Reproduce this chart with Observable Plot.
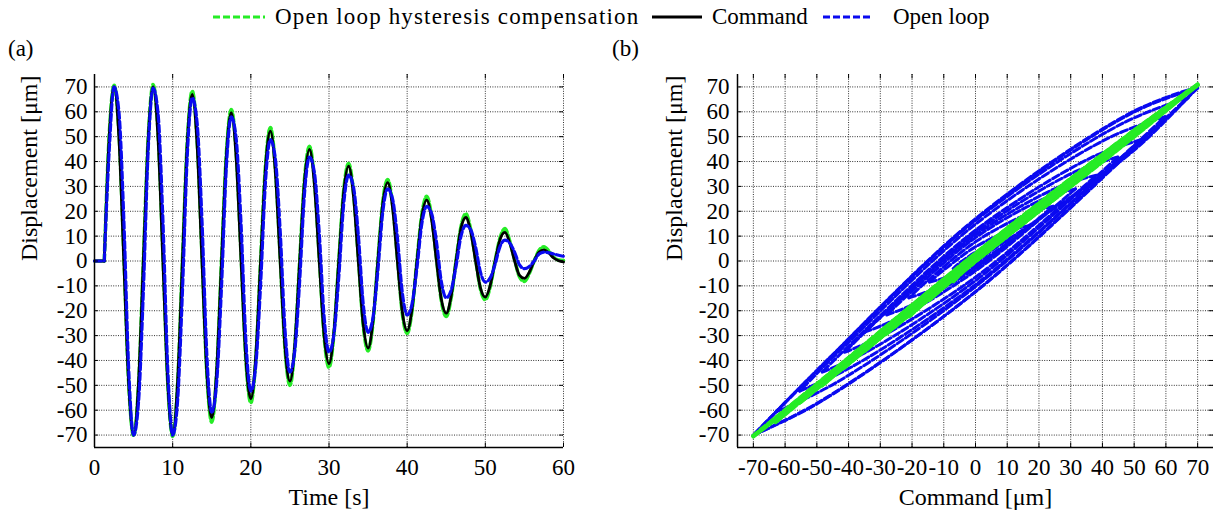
<!DOCTYPE html>
<html><head><meta charset="utf-8">
<script src="https://cdn.jsdelivr.net/npm/d3@7"></script>
<script src="https://cdn.jsdelivr.net/npm/@observablehq/plot@0.6"></script>
<style>
html,body{margin:0;padding:0;background:#fff;}
#wrap{position:relative;width:1216px;height:517px;overflow:hidden;background:#fff;font-family:"Liberation Serif","Times New Roman",Times,serif;color:#000;}
.panel{position:absolute;top:0;}
.lg{position:absolute;font-size:23px;line-height:1;white-space:nowrap;}
.lgs{position:absolute;}
.tag{position:absolute;font-size:23px;line-height:1;}
</style></head>
<body><div id="wrap">
  <div id="pa" class="panel" style="left:0px"></div>
  <div id="pb" class="panel" style="left:608px"></div>
  <svg class="lgs" style="left:213px;top:12px" width="52" height="10"><line x1="0" y1="5" x2="52" y2="5" stroke="#26ec26" stroke-width="3" stroke-dasharray="7,3"/></svg>
  <div class="lg" style="left:275px;top:5px;letter-spacing:1.15px">Open loop hysteresis compensation</div>
  <svg class="lgs" style="left:652px;top:12px" width="50" height="10"><line x1="0" y1="5" x2="50" y2="5" stroke="#000" stroke-width="3"/></svg>
  <div class="lg" style="left:712px;top:5px">Command</div>
  <svg class="lgs" style="left:823px;top:12px" width="50" height="10"><line x1="0" y1="5" x2="50" y2="5" stroke="#0a0af0" stroke-width="3" stroke-dasharray="7,3"/></svg>
  <div class="lg" style="left:893px;top:5px">Open loop</div>
  <div class="tag" style="left:8px;top:37px">(a)</div>
  <div class="tag" style="left:612px;top:37px">(b)</div>
</div>
<script>
const FONT = "'Liberation Serif','Times New Roman',Times,serif";
const BLUE = "#0a0af0", GREEN = "#26ec26", BLACK = "#000";

// tick values
const timeTicks = [0, 10, 20, 30, 40, 50, 60];
const dispTicks = [-70, -60, -50, -40, -30, -20, -10, 0, 10, 20, 30, 40, 50, 60, 70];
const cmdTicks = [-70, -60, -50, -40, -30, -20, -10, 0, 10, 20, 30, 40, 50, 60, 70];

// sample times [s]
const tKey = [0, 1.25, 1.875, 2.5,
  3.125, 3.75, 4.375, 5, 5.625, 6.25, 6.875, 7.5, 8.125, 8.75, 9.375, 10,
  10.625, 11.25, 11.875, 12.5, 13.125, 13.75, 14.375, 15, 15.625, 16.25, 16.875, 17.5,
  18.125, 18.75, 19.375, 20, 20.625, 21.25, 21.875, 22.5, 23.125, 23.75, 24.375, 25,
  25.625, 26.25, 26.875, 27.5, 28.125, 28.75, 29.375, 30, 30.625, 31.25, 31.875, 32.5,
  33.125, 33.75, 34.375, 35, 35.625, 36.25, 36.875, 37.5, 38.125, 38.75, 39.375, 40,
  40.625, 41.25, 41.875, 42.5, 43.125, 43.75, 44.375, 45, 45.625, 46.25, 46.875, 47.5,
  48.125, 48.75, 49.375, 50, 50.625, 51.25, 51.875, 52.5, 53.125, 53.75, 54.375, 55,
  55.625, 56.25, 56.875, 57.5, 58.125, 58.75, 59.375, 60];

// Command [um]
const command = [0, 0, 49.5, 70,
  49.5, 0, -49.5, -70, -49.5, 0, 49.5, 70, 49.5, 0, -49.5, -70,
  -49.0, 0, 47.9, 67, 46.7, 0, -45.2, -63, -44.0, 0, 42.8, 59.7,
  41.5, 0, -39.9, -55.4, -38.6, 0, 37.5, 52.2, 36.2, 0, -34.8, -48.3,
  -33.5, 0, 32.4, 44.9, 31.1, 0, -29.8, -41.3, -28.6, 0, 27.5, 38.1,
  26.4, 0, -25.3, -35, -24.1, 0, 22.9, 31.5, 21.7, 0, -20.4, -28,
  -19.2, 0, 17.9, 24.5, 16.7, 0, -15.5, -21, -14.2, 0, 13.0, 17.5,
  11.8, 0, -10.8, -14.5, -9.8, 0, 8.6, 11.5, 7.3, 0, -5.8, -7,
  -4.5, 0, 3.6, 4.5, 3.2, 1.2, 0.1, -0.4];

// Open loop displacement [um]
const openLoop = [0, 0, 44.0, 70,
  60.0, 17.0, -43.5, -70, -57.1, -12.3, 45.1, 69.5, 59.6, 16.7, -43.6, -70,
  -56.5, -12.4, 42.8, 65.6, 55.6, 16.3, -37.9, -60.8, -49.0, -10.3, 38.1, 58,
  49.2, 14.8, -32.5, -52.3, -42.3, -9.5, 31.9, 48.8, 41.4, 12.4, -27.8, -44.7,
  -36.0, -7.9, 27.5, 41.8, 35.7, 11.4, -22.5, -36.7, -29.6, -6.5, 22.7, 34.5,
  29.9, 10.5, -17.2, -28.7, -22.8, -4.0, 19.6, 29, 25.1, 9.4, -12.6, -21.7,
  -17.2, -2.9, 15.0, 22, 19.1, 7.7, -8.4, -14.8, -11.8, -2.2, 9.8, 14.3,
  12.6, 5.7, -4.5, -8.5, -6.8, -1.3, 5.8, 8.4, 7.2, 3.5, -1.6, -3.1,
  -2.2, 0.0, 2.8, 3.6, 3.3, 2.8, 2.3, 1.9];

// Open loop hysteresis compensation displacement [um]
const compensation = [0, 0, 50.0, 70.7,
  52.0, 3.0, -49.0, -70.3, -50.5, 0, 49.5, 71, 52.0, 3.0, -49.0, -70.5,
  -50.0, 0, 48.3, 68.3, 49.0, 2.8, -45.3, -64.8, -45.0, 0, 43.4, 60.9,
  43.6, 2.5, -40.1, -57, -39.6, 0, 38.2, 53.7, 38.0, 2.2, -35.1, -50,
  -34.4, 0, 33.1, 46.1, 32.7, 1.9, -30.2, -42.8, -29.4, 0, 28.1, 39.2,
  27.8, 1.6, -25.7, -36.2, -24.8, 0, 23.6, 32.8, 22.9, 1.4, -20.9, -29.1,
  -19.9, 0, 18.6, 26, 17.8, 1.1, -16.0, -22.3, -14.8, 0, 13.6, 19,
  12.7, 0.8, -11.3, -15.6, -10.3, 0, 9.2, 13, 8.0, 0.5, -6.4, -8.2,
  -5.0, 0, 4.3, 5.7, 4.0, 1.5, 0.4, 0.2];

// ---- tables built from the arrays ----
const rows = tKey.map((t, i) => ({t, cmd: command[i], ol: openLoop[i], comp: compensation[i]}));
const flat = rows.slice(0, 2);
const wave = rows.slice(1);

// split the loop path into branches between turning points (every 2.5 s)
function branches(key) {
  const out = [];
  let b = 0;
  for (let i = 1; i < rows.length; i++) {
    const r = rows[i];
    out.push({x: r.cmd, y: r[key], b});
    if (i > 1 && i < rows.length - 1 && r.t % 2.5 === 0) {
      b++;
      out.push({x: r.cmd, y: r[key], b});
    }
  }
  return out;
}
const olLoops = branches("ol");
const compLoops = branches("comp");

const fmt = d => String(d);
const gridStyle = {stroke: "#333", strokeWidth: 1, strokeDasharray: "1,1.4"};

// ---------------- panel (a) ----------------
const plotA = Plot.plot({
  width: 608, height: 517,
  marginLeft: 94, marginRight: 45, marginTop: 74, marginBottom: 70,
  x: {domain: [0, 60], label: null},
  y: {domain: [-75, 75], label: null},
  style: {fontFamily: FONT, fontSize: "23px", background: "white", overflow: "visible", color: "black"},
  marks: [
    Plot.ruleX(timeTicks.slice(1), {x: d => d, ...gridStyle}),
    Plot.ruleY(dispTicks, {y: d => d, ...gridStyle}),
    // data
    Plot.line(flat, {x: "t", y: "comp", stroke: GREEN, strokeWidth: 3}),
    Plot.line(wave, {x: "t", y: "comp", curve: "monotone-x", stroke: GREEN, strokeWidth: 3.6, strokeDasharray: "7,3"}),
    Plot.line(flat, {x: "t", y: "cmd", stroke: BLACK, strokeWidth: 2.8}),
    Plot.line(wave, {x: "t", y: "cmd", curve: "monotone-x", stroke: BLACK, strokeWidth: 2.8}),
    Plot.line(flat, {x: "t", y: "ol", stroke: BLUE, strokeWidth: 3, strokeDasharray: "7,3"}),
    Plot.line(wave, {x: "t", y: "ol", curve: "monotone-x", stroke: BLUE, strokeWidth: 3.2, strokeDasharray: "7,3"}),
    // inward ticks
    Plot.ruleX(timeTicks, {x: d => d, y1: -75, y2: -73.2, stroke: "black"}),
    Plot.ruleX(timeTicks, {x: d => d, y1: 75, y2: 73.2, stroke: "black"}),
    Plot.ruleY(dispTicks, {y: d => d, x1: 0, x2: 0.5, stroke: "black"}),
    Plot.ruleY(dispTicks, {y: d => d, x1: 60, x2: 59.5, stroke: "black"}),
    // axes lines
    Plot.ruleX([0], {x: d => d, y1: -75, y2: 75, stroke: "black", strokeWidth: 1.5}),
    Plot.ruleY([-75], {y: d => d, x1: 0, x2: 60, stroke: "black", strokeWidth: 1.5}),
    Plot.axisX({ticks: timeTicks, tickFormat: fmt, tickSize: 0, tickPadding: 11, label: null, fontSize: 23}),
    Plot.axisY({ticks: dispTicks, tickFormat: fmt, tickSize: 0, tickPadding: 7, label: null, fontSize: 23}),
    Plot.text(["Time [s]"], {frameAnchor: "bottom", dy: 50, text: d => d, fontSize: 24, lineAnchor: "middle"}),
    Plot.text(["Displacement [\u03bcm]"], {frameAnchor: "left", dx: -65, rotate: -90, text: d => d, fontSize: 24, lineAnchor: "middle"})
  ]
});
document.getElementById("pa").appendChild(plotA);

// ---------------- panel (b) ----------------
const plotB = Plot.plot({
  width: 608, height: 517,
  marginLeft: 129, marginRight: 3, marginTop: 74, marginBottom: 70,
  x: {domain: [-75, 75], label: null},
  y: {domain: [-75, 75], label: null},
  style: {fontFamily: FONT, fontSize: "23px", background: "white", overflow: "visible", color: "black"},
  marks: [
    Plot.ruleX(cmdTicks, {x: d => d, ...gridStyle}),
    Plot.ruleY(dispTicks, {y: d => d, ...gridStyle}),
    Plot.line(olLoops, {x: "x", y: "y", z: "b", curve: "catmull-rom", stroke: BLUE, strokeWidth: 3, strokeDasharray: "7,3"}),
    Plot.line(compLoops, {x: "x", y: "y", z: "b", curve: "catmull-rom", stroke: GREEN, strokeWidth: 4, strokeDasharray: "7,3"}),
    Plot.ruleX(cmdTicks, {x: d => d, y1: -75, y2: -73.2, stroke: "black"}),
    Plot.ruleX(cmdTicks, {x: d => d, y1: 75, y2: 73.2, stroke: "black"}),
    Plot.ruleY(dispTicks, {y: d => d, x1: -75, x2: -73.6, stroke: "black"}),
    Plot.ruleY(dispTicks, {y: d => d, x1: 75, x2: 73.6, stroke: "black"}),
    Plot.ruleX([-75], {x: d => d, y1: -75, y2: 75, stroke: "black", strokeWidth: 1.5}),
    Plot.ruleY([-75], {y: d => d, x1: -75, x2: 75, stroke: "black", strokeWidth: 1.5}),
    Plot.axisX({ticks: cmdTicks, tickFormat: fmt, tickSize: 0, tickPadding: 11, label: null, fontSize: 23}),
    Plot.axisY({ticks: dispTicks, tickFormat: fmt, tickSize: 0, tickPadding: 8, label: null, fontSize: 23}),
    Plot.text(["Command [\u03bcm]"], {frameAnchor: "bottom", dy: 50, text: d => d, fontSize: 24, lineAnchor: "middle"}),
    Plot.text(["Displacement [\u03bcm]"], {frameAnchor: "left", dx: -63, rotate: -90, text: d => d, fontSize: 24, lineAnchor: "middle"})
  ]
});
document.getElementById("pb").appendChild(plotB);
</script>
</body></html>
